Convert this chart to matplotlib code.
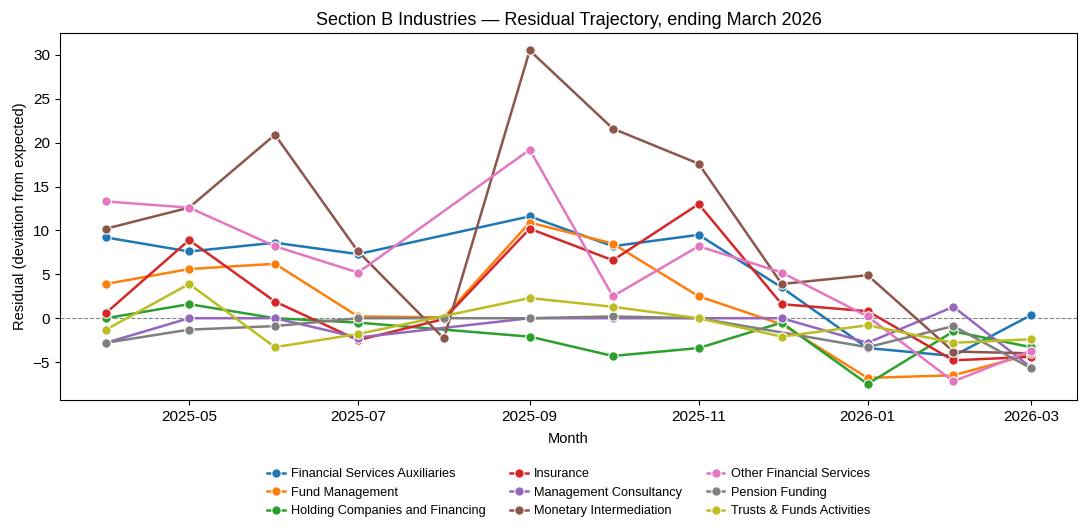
import numpy as np
import pandas as pd
import matplotlib
matplotlib.use("Agg")
import matplotlib.pyplot as plt
import matplotlib.dates as mdates

plt.rcParams['font.family'] = ['Liberation Sans', 'DejaVu Sans']

months = pd.date_range("2025-04-01", periods=12, freq="MS")
nan = np.nan

# residual values per industry (nan = no data that month)
fin_serv_aux = [9.2, 7.6, 8.6, 7.3, nan, 11.6, 8.2, 9.5, 3.5, -3.4, -4.3, 0.35]
fund_mgmt = [3.9, 5.6, 6.2, 0.2, 0.1, 10.9, 8.5, 2.5, -0.7, -6.8, -6.5, -4.1]
holding = [0.0, 1.6, 0.0, -0.5, nan, -2.1, -4.3, -3.4, -0.5, -7.5, -1.5, -3.3]
insurance = [0.6, 8.9, 1.9, -2.5, -0.1, 10.2, 6.6, 13.0, 1.6, 0.8, -4.8, -4.4]
mgmt_consult = [-2.8, 0.0, 0.0, -2.2, nan, 0.0, 0.0, 0.0, 0.0, -2.8, 1.3, -5.6]
monetary = [10.2, 12.6, 20.9, 7.6, -2.3, 30.5, 21.6, 17.6, 3.9, 4.9, -3.8, -4.0]
other_fin = [13.3, 12.6, 8.2, 5.2, nan, 19.2, 2.5, 8.2, 5.2, 0.2, -7.2, -3.7]
pension = [-2.8, -1.3, -0.9, 0.0, 0.0, 0.0, 0.2, 0.0, nan, -3.3, -0.9, -5.7]
trusts = [-1.3, 3.9, -3.3, -1.8, nan, 2.3, 1.3, 0.0, -2.1, -0.8, -2.8, -2.4]

series = {
    "Financial Services Auxiliaries": fin_serv_aux,
    "Fund Management": fund_mgmt,
    "Holding Companies and Financing": holding,
    "Insurance": insurance,
    "Management Consultancy": mgmt_consult,
    "Monetary Intermediation": monetary,
    "Other Financial Services": other_fin,
    "Pension Funding": pension,
    "Trusts & Funds Activities": trusts,
}
colors = ["#1f77b4", "#ff7f0e", "#2ca02c", "#d62728", "#9467bd",
          "#8c564b", "#e377c2", "#7f7f7f", "#bcbd22"]

fig, ax = plt.subplots(figsize=(10.87, 5.31), dpi=100)
fig.subplots_adjust(left=0.055, right=0.991, top=0.938, bottom=0.247)

ax.axhline(0, color="gray", lw=0.8, ls="--", zorder=1)

for (name, vals), c in zip(series.items(), colors):
    s = pd.Series(vals, index=months).dropna()
    ax.plot(s.index, s.values, color=c, lw=1.8, marker="o", markersize=6.8,
            markeredgecolor="white", markeredgewidth=0.8, label=name, zorder=2)

ax.set_ylim(-9.3, 32.5)
ax.set_yticks([-5, 0, 5, 10, 15, 20, 25, 30])
ax.xaxis.set_major_locator(mdates.MonthLocator(bymonth=[1, 3, 5, 7, 9, 11]))
ax.xaxis.set_major_formatter(mdates.DateFormatter("%Y-%m"))
ax.tick_params(labelsize=11)

ax.set_title("Section B Industries \u2014 Residual Trajectory, ending March 2026", fontsize=13)
ax.set_xlabel("Month", fontsize=10.5, labelpad=6)
ax.set_ylabel("Residual (deviation from expected)", fontsize=10.5)

ax.legend(loc="upper center", bbox_to_anchor=(0.5, -0.155), ncol=3,
          frameon=False, fontsize=9.2, columnspacing=1.9, handlelength=1.4,
          handletextpad=0.5)

fig.savefig("out.png", dpi=100)
